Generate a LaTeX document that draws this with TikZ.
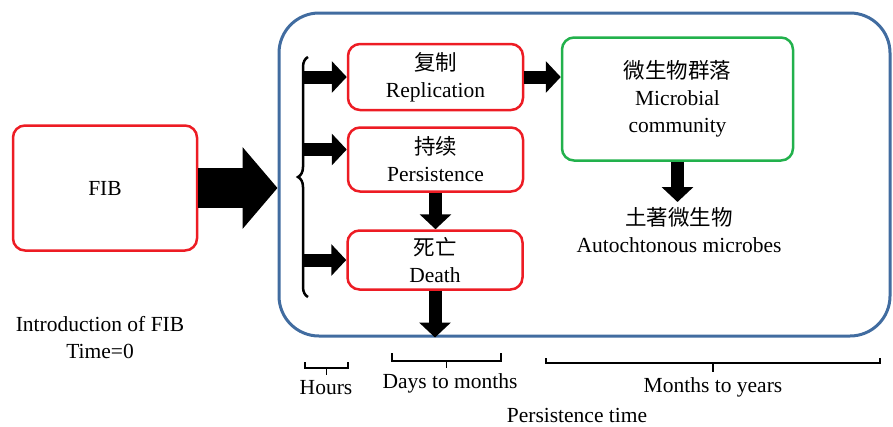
\documentclass[tikz,border=0pt]{standalone}
\usepackage{fontspec}
\setmainfont{Liberation Serif}
\newfontfamily\zh{Noto Sans CJK SC}
\usetikzlibrary{arrows.meta,positioning,decorations.pathreplacing}
\definecolor{fibred}{RGB}{237,28,36}
\definecolor{commgreen}{RGB}{34,177,76}
\definecolor{envblue}{RGB}{65,108,160}

\begin{document}
\begin{tikzpicture}[x=1pt, y=-1pt, font=\fontsize{21.5}{27}\selectfont,
  stage/.style={draw=fibred, line width=2.5pt, rounded corners=12pt, align=center, minimum width=175pt, inner sep=0pt},
  fat/.style={line width=13pt, -{Triangle[length=15pt,width=31pt]}},
  bar/.style={line width=1.8pt}]
\useasboundingbox (0,0) rectangle (893,426);
% environment frame
\node[draw=envblue, line width=3pt, rounded corners=40pt, minimum width=611pt, minimum height=323pt, inner sep=0pt] (env) at (584.5,174.5) {};
% boxes
\node[stage, minimum width=184pt, minimum height=125pt] (fib) at (105,188) {FIB};
\node[stage, minimum height=66pt] (rep) at (435.5,77) {{\zh 复制}\\Replication};
\node[stage, minimum height=64pt] (per) at (435.5,159.5) {{\zh 持续}\\Persistence};
\node[stage, minimum height=59pt] (death) at (435,260) {{\zh 死亡}\\Death};
\node[stage, draw=commgreen, minimum width=231pt, minimum height=123pt] (comm) at (677.5,99) {{\zh 微生物群落}\\Microbial\\community};
\node[align=center, anchor=north, inner xsep=1pt, inner ysep=5pt] (auto) at (679,202) {{\zh 土著微生物}\\Autochtonous microbes};
\node[align=center] (intro) at (100,338) {Introduction of FIB\\Time=0};
% brace
\coordinate (brtop) at (308,57);
\coordinate (brbot) at (308,297);
\coordinate (brx) at (303,57);
\draw[line width=2.5pt, decorate, decoration={brace, amplitude=10pt}] (brbot) -- (brtop);
\coordinate (perin) at ([yshift=10pt]per.west);
% arrows
\draw[line width=40pt, -{Triangle[length=35pt,width=80pt]}] (fib.east) -- (fib.east -| env.west);
\draw[fat] (brx |- rep.west) -- (rep.west);
\draw[fat] (brx |- perin) -- (perin);
\draw[fat] (brx |- death.west) -- (death.west);
\draw[fat] (rep.east) -- (rep.east -| comm.west);
\draw[fat] (per.south) -- (per.south |- death.north);
\draw[fat] (death.south) -- (death.south |- env.south);
\draw[fat] (comm.south) -- (comm.south |- auto.north);
% time scale
\draw[bar] (305,362) -- (305,368) -- (348,368) -- (348,362) (326.5,368) -- (326.5,375);
\node (hours) at (326,388) {Hours};
\draw[bar] (392,353) -- (392,361) -- (501,361) -- (501,353) (446.5,361) -- (446.5,368);
\node (days) at (450,383) {Days to months};
\draw[bar] (546,358) -- (546,363) -- (880,363) -- (880,358) (713,363) -- (713,372);
\node (years) at (713,387) {Months to years};
\node (ptime) at (577,415) {Persistence time};
\end{tikzpicture}
\end{document}
